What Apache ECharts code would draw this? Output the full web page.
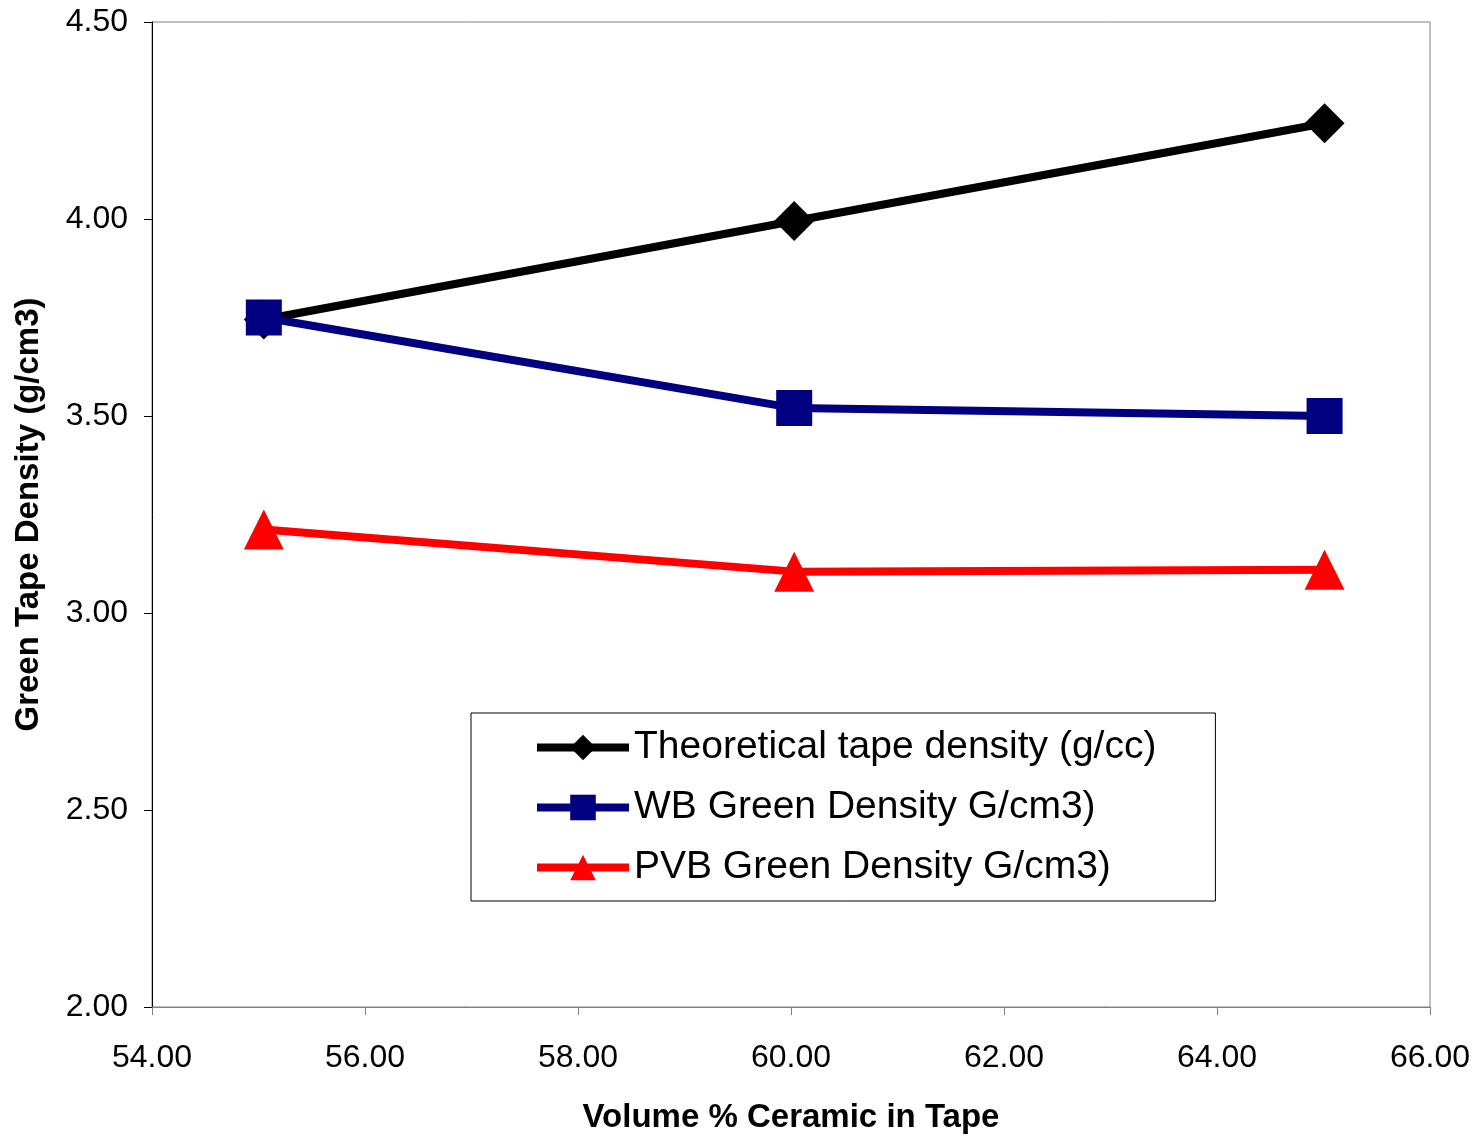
<!DOCTYPE html>
<html>
<head>
<meta charset="utf-8">
<script src="https://cdn.jsdelivr.net/npm/echarts@6/dist/echarts.min.js"></script>
<style>
  html, body { margin: 0; padding: 0; background: #fff; }
  #chart { width: 1480px; height: 1139px; }
</style>
</head>
<body>
<div id="chart"></div>
<script>
// volume % ceramic
var volumePct = [55.05, 60.03, 65.01]
var theoretical = [3.745, 3.995, 4.243]
var wbGreen = [3.75, 3.52, 3.50]
var pvbGreen = [3.212, 3.105, 3.11]

var seriesNames = ['Theoretical tape density (g/cc)', 'WB Green Density G/cm3)', 'PVB Green Density G/cm3)']

function pairs(ys) {
  return volumePct.map(function (x, i) { return [x, ys[i]] })
}

var font = 'Arial, "Liberation Sans", sans-serif'

var myChart = echarts.init(document.getElementById('chart'))
var option = {
  backgroundColor: '#fff',
  animation: false,
  grid: {
    left: 152, right: 50, top: 22, bottom: 131,
    show: true, borderColor: '#808080', borderWidth: 1
  },
  legend: {
    orient: 'vertical',
    left: 471,
    top: 713,
    itemWidth: 92,
    itemHeight: 32,
    itemGap: 21,
    padding: [15, 59, 14, 62],
    borderColor: '#000',
    borderWidth: 1,
    backgroundColor: '#fff',
    lineStyle: { width: 8 },
    textStyle: { fontFamily: font, fontSize: 39, color: '#000' },
    data: seriesNames
  },
  xAxis: {
    type: 'value',
    min: 54, max: 66, interval: 2,
    name: 'Volume % Ceramic in Tape',
    nameLocation: 'middle',
    nameGap: 94,
    nameTextStyle: { fontFamily: font, fontSize: 33, fontWeight: 'bold', color: '#000' },
    axisLine: { lineStyle: { color: '#808080', width: 1 } },
    axisTick: { show: true, inside: false, length: 8, lineStyle: { color: '#808080' } },
    axisLabel: {
      fontFamily: font, fontSize: 32, color: '#000', margin: 35,
      formatter: function (v) { return v.toFixed(2) }
    },
    splitLine: { show: false }
  },
  yAxis: {
    type: 'value',
    min: 2, max: 4.5, interval: 0.5,
    name: 'Green Tape Density (g/cm3)',
    nameLocation: 'middle',
    nameGap: 107,
    nameTextStyle: { fontFamily: font, fontSize: 33, fontWeight: 'bold', color: '#000' },
    axisLine: { show: true, lineStyle: { color: '#000', width: 1 } },
    axisTick: { show: true, inside: false, length: 8, lineStyle: { color: '#000' } },
    axisLabel: {
      fontFamily: font, fontSize: 32, color: '#000', margin: 24,
      formatter: function (v) { return v.toFixed(2) }
    },
    splitLine: { show: false }
  },
  series: [
    {
      name: seriesNames[0],
      type: 'line',
      data: pairs(theoretical),
      symbol: 'diamond',
      symbolSize: [40, 40],
      lineStyle: { color: '#000000', width: 8 },
      itemStyle: { color: '#000000' },
      z: 2
    },
    {
      name: seriesNames[1],
      type: 'line',
      data: pairs(wbGreen),
      symbol: 'rect',
      symbolSize: [36, 36],
      lineStyle: { color: '#000080', width: 8 },
      itemStyle: { color: '#000080' },
      z: 3
    },
    {
      name: seriesNames[2],
      type: 'line',
      data: pairs(pvbGreen),
      symbol: 'triangle',
      symbolSize: [40, 40],
      lineStyle: { color: '#ff0000', width: 8 },
      itemStyle: { color: '#ff0000' },
      z: 4
    }
  ]
}
myChart.setOption(option)
</script>
</body>
</html>
